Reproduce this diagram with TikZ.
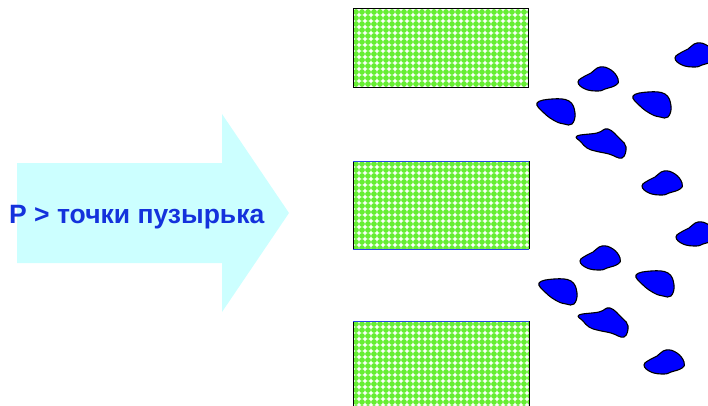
\documentclass[tikz,border=0pt]{standalone}
\usepackage{fontspec}
\setmainfont{Liberation Sans}
\definecolor{arrowcyan}{RGB}{204,255,255}
\definecolor{labelblue}{RGB}{20,50,220}
\definecolor{dotgreen}{RGB}{102,238,51}
\definecolor{rimblue}{RGB}{40,70,230}
\tikzset{
  pebble/.style={fill=blue, draw=black, line width=1.1pt, line join=round},
  dot/.style={fill=dotgreen},
}
% green dotted panel: left, top, right, bottom
\newcommand\greenpanel[4]{%
  \begin{scope}
    \clip (#1,#2) rectangle (#3,#4);
    \fill[white] (#1,#2) rectangle (#3,#4);
    \foreach \i in {0,...,30}{
      \foreach \j in {0,...,15}{
        \fill[dot] ({#1+3+6*\i},{#2+3+6*\j}) circle (2.9);
      }
    }
  \end{scope}}
% pebble shapes, placed by their top-left corner
\newcommand\pebbleround[2]{%
  \draw[pebble, shift={(#1,#2)}] plot[smooth cycle, tension=0.75] coordinates
    {(0,15) (7,9) (13,6) (22,0) (33,3) (40,12) (38,18) (27,22) (20,24) (7,22)};}
\newcommand\pebbledrop[2]{%
  \draw[pebble, shift={(#1,#2)}] plot[smooth cycle, tension=0.7] coordinates
    {(0,5) (15,1) (32,3) (38,15) (35,26) (27,26) (18,23) (7,15)};}
\newcommand\pebblelong[2]{%
  \draw[pebble, shift={(#1,#2)}] plot[smooth cycle, tension=0.7] coordinates
    {(0,7) (20,4) (31,0) (43,10) (49,18) (45,29) (32,25) (18,22) (10,19) (4,13)};}
\begin{document}
\begin{tikzpicture}[x=1pt, y=-1pt]
  \useasboundingbox (0,0) rectangle (708,406);
  \clip (0,0) rectangle (708,406);

  % pressure arrow
  \fill[arrowcyan] (17,163) -- (222,163) -- (222,114) -- (289,213)
    -- (222,312) -- (222,263) -- (17,263) -- cycle;
  \node[anchor=base west, inner sep=0pt, text=labelblue,
        font=\fontsize{26.5}{30}\selectfont\bfseries] (label) at (9,223)
    {P > точки пузырька};

  % filter panels
  \greenpanel{353}{9}{528}{88}
  \draw[black, line width=1pt] (353,9) rectangle (528,88);

  \greenpanel{353}{161}{529}{249}
  \draw[black, line width=1pt] (353,161) -- (353,249) (529,161) -- (529,249);
  \draw[rimblue, line width=1pt] (353,161) -- (529,161) (353,249) -- (529,249);

  \greenpanel{353}{321}{529}{410}
  \draw[black, line width=1pt] (353,321) -- (353,410) (529,321) -- (529,410);
  \draw[rimblue, line width=1pt] (353,321) -- (529,321);

  % particles
  \pebbleround{675}{43}
  \pebbleround{578}{67}
  \pebbledrop{633}{91}
  \pebbledrop{537}{98}
  \pebblelong{577}{129}
  \pebbleround{642}{171}
  \pebbleround{676}{222}
  \pebbleround{580}{246}
  \pebbledrop{636}{270}
  \pebbledrop{539}{278}
  \pebblelong{579}{308}
  \pebbleround{644}{350}
\end{tikzpicture}
\end{document}
